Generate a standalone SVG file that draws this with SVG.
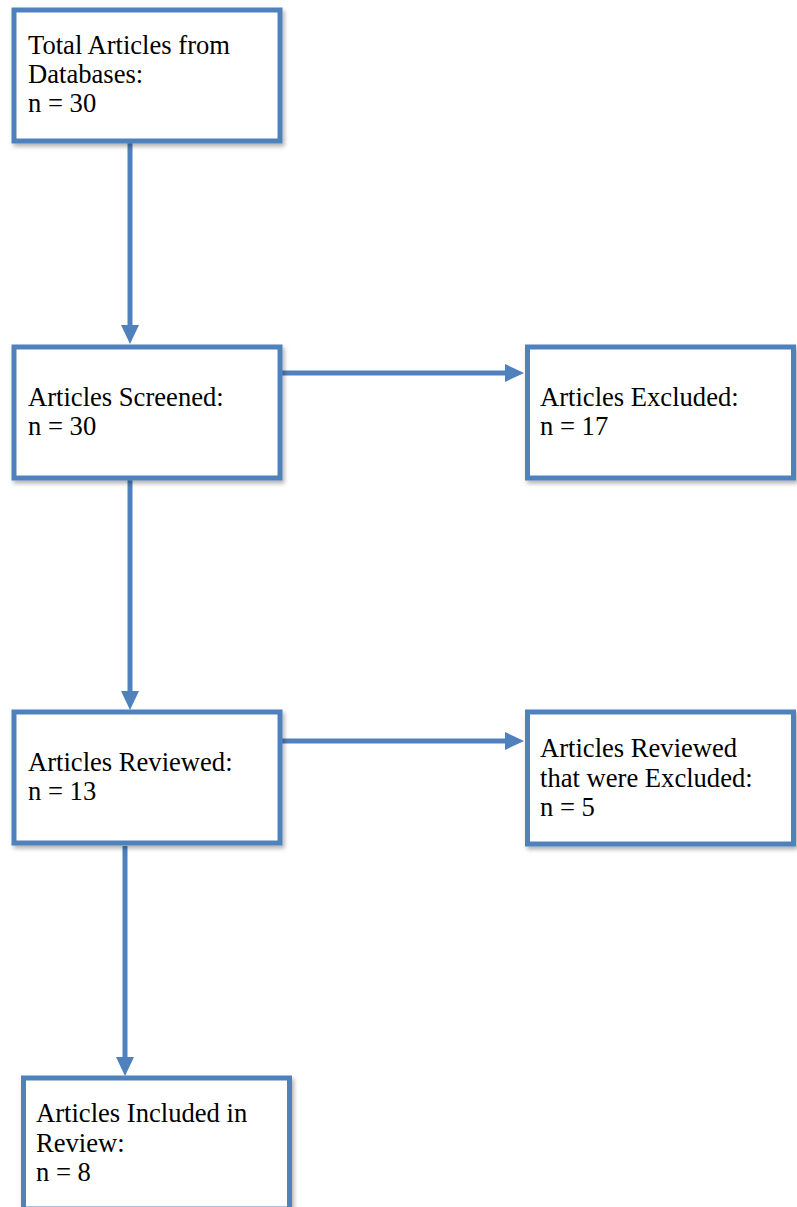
<svg xmlns="http://www.w3.org/2000/svg" width="797" height="1207" viewBox="0 0 797 1207">
<style>
.box{fill:#ffffff;stroke:#4F81BD;stroke-width:5;filter:url(#sh);}
.lbl{font-family:"Liberation Serif","Times New Roman",serif;font-size:26.6px;fill:#000000;}
.conn{stroke:#4F81BD;stroke-width:5;fill:none;}
.head{fill:#4F81BD;}
</style>
<defs>
<filter id="sh" x="-10%" y="-10%" width="130%" height="130%">
<feDropShadow dx="2" dy="3" stdDeviation="2" flood-color="#000000" flood-opacity="0.3"/>
</filter>
</defs>
<rect width="797" height="1207" fill="#ffffff"/>
<g id="connectors">
<line class="conn" x1="130" y1="143" x2="130" y2="326"/>
<polygon class="head" points="121,325 139,325 130,344"/>
<line class="conn" x1="282" y1="373" x2="506" y2="373"/>
<polygon class="head" points="505,364 505,382 524,373"/>
<line class="conn" x1="130" y1="480" x2="130" y2="692"/>
<polygon class="head" points="121,691 139,691 130,710"/>
<line class="conn" x1="282" y1="741" x2="506" y2="741"/>
<polygon class="head" points="505,732 505,750 524,741"/>
<line class="conn" x1="125" y1="846" x2="125" y2="1058"/>
<polygon class="head" points="116,1057 134,1057 125,1076"/>
</g>
<g id="n1">
<rect class="box" x="14" y="10" width="266" height="131"/>
<text class="lbl" x="28" y="54">Total Articles from</text>
<text class="lbl" x="28" y="83">Databases:</text>
<text class="lbl" x="28" y="112">n = 30</text>
</g>
<g id="n2">
<rect class="box" x="14" y="347" width="266" height="131"/>
<text class="lbl" x="28" y="406">Articles Screened:</text>
<text class="lbl" x="28" y="435">n = 30</text>
</g>
<g id="n3">
<rect class="box" x="527.5" y="347" width="266" height="131"/>
<text class="lbl" x="540" y="406">Articles Excluded:</text>
<text class="lbl" x="540" y="435">n = 17</text>
</g>
<g id="n4">
<rect class="box" x="14" y="712" width="266" height="131"/>
<text class="lbl" x="28" y="771">Articles Reviewed:</text>
<text class="lbl" x="28" y="800">n = 13</text>
</g>
<g id="n5">
<rect class="box" x="527.5" y="712" width="266" height="132"/>
<text class="lbl" x="540" y="757">Articles Reviewed</text>
<text class="lbl" x="540" y="787">that were Excluded:</text>
<text class="lbl" x="540" y="816">n = 5</text>
</g>
<g id="n6">
<rect class="box" x="23.5" y="1078" width="266" height="131"/>
<text class="lbl" x="36" y="1122">Articles Included in</text>
<text class="lbl" x="36" y="1152">Review:</text>
<text class="lbl" x="36" y="1181">n = 8</text>
</g>
</svg>
